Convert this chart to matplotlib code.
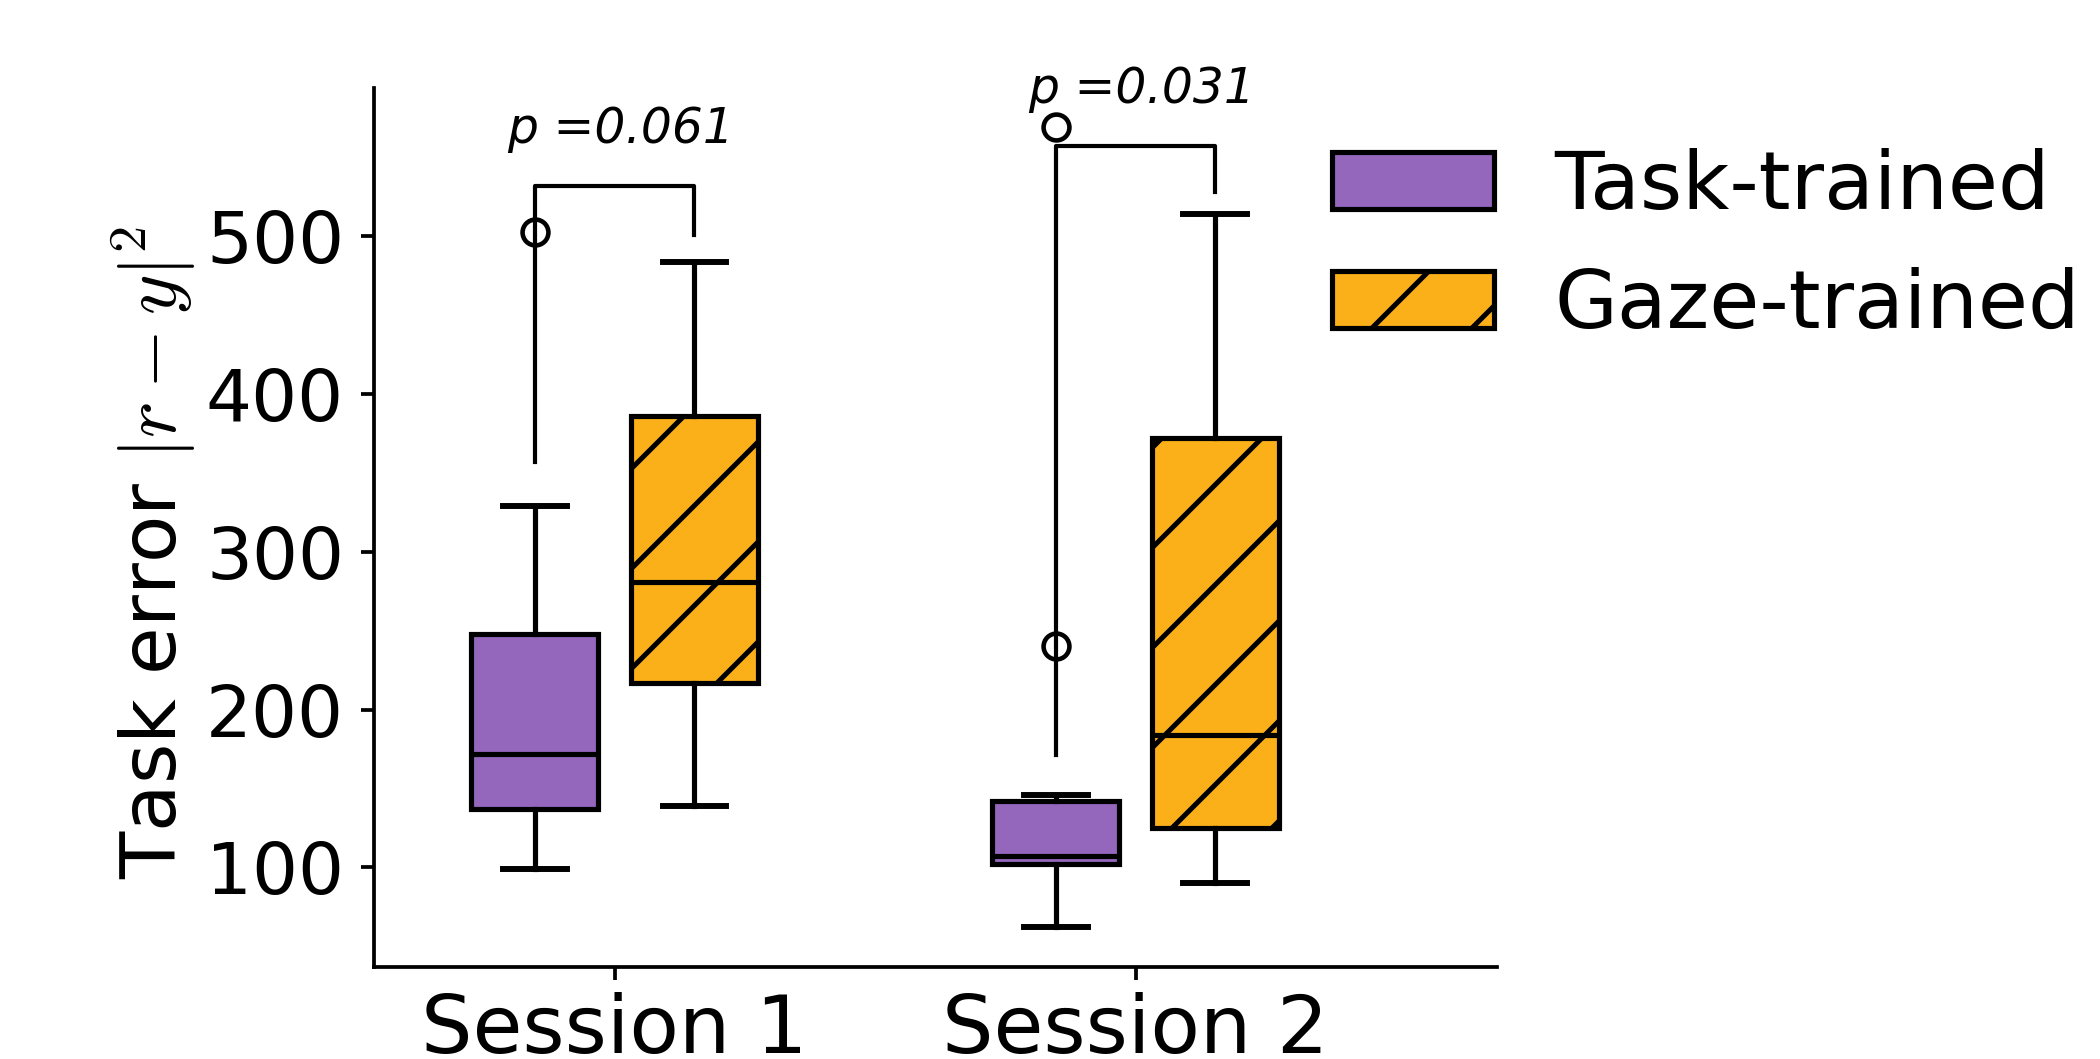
import numpy as np
import matplotlib.pyplot as plt

plt.rcParams['mathtext.fontset'] = 'cm'
plt.rcParams['hatch.linewidth'] = 0.6

sessions = ['Session 1', 'Session 2']
groups = ['Task-trained', 'Gaze-trained']
colors = ['#9467bd', '#fbb01a']
hatches = ['', '//']

# box stats: [session1, session2]
task_q1 = [137, 102]
task_med = [172, 107]
task_q3 = [248, 142]
task_lo = [99, 62]
task_hi = [329, 146]
task_fliers = [[503], [240, 569]]

gaze_q1 = [217, 125]
gaze_med = [281, 184]
gaze_q3 = [386, 372]
gaze_lo = [139, 90]
gaze_hi = [484, 514]
gaze_fliers = [[], []]

# significance brackets: left leg bottom, top, right leg bottom
br_left = [357, 171]
br_top = [532, 557]
br_right = [501, 528]
p_vals = ['0.061', '0.031']

off = 0.153
bw = 0.244

def make_stats(q1, med, q3, lo, hi, fl):
    out = []
    for ii in range(len(q1)):
        out.append({'q1': q1[ii], 'med': med[ii], 'q3': q3[ii],
                    'whislo': lo[ii], 'whishi': hi[ii],
                    'fliers': np.array(fl[ii])})
    return out

stats = [make_stats(task_q1, task_med, task_q3, task_lo, task_hi, task_fliers),
         make_stats(gaze_q1, gaze_med, gaze_q3, gaze_lo, gaze_hi, gaze_fliers)]

fig = plt.figure(figsize=(3.5, 1.765), dpi=600)
ax = fig.add_axes([0.1779, 0.0872, 0.535, 0.8297])

lw = 0.62
x = np.arange(len(sessions))
for gg in range(2):
    pos = x + (-off if gg == 0 else off)
    bp = ax.bxp(stats[gg], positions=pos, widths=bw, patch_artist=True,
                boxprops=dict(facecolor=colors[gg], edgecolor='black', linewidth=lw, hatch=hatches[gg]),
                medianprops=dict(color='black', linewidth=lw),
                whiskerprops=dict(color='black', linewidth=lw),
                capprops=dict(color='black', linewidth=lw * 1.15),
                flierprops=dict(marker='o', markerfacecolor='none', markeredgecolor='black',
                                markersize=3.1, markeredgewidth=0.55))

for ii in range(len(sessions)):
    x1 = x[ii] - off
    x2 = x[ii] + off
    ax.plot([x1, x1, x2, x2], [br_left[ii], br_top[ii], br_top[ii], br_right[ii]],
            color='black', linewidth=0.5)
    ax.text(x[ii] + 0.012, br_top[ii] + 21, 'p =' + p_vals[ii], ha='center', va='bottom',
            fontsize=5.85, style='italic')

ax.set_xlim(-0.4627, 1.694)
ax.set_ylim(37, 594)
ax.set_xticks(x)
ax.set_xticklabels(sessions)
ax.set_yticks([100, 200, 300, 400, 500])
ax.tick_params(width=0.45, length=1.55)
ax.tick_params(axis='y', labelsize=8.7, pad=2)
ax.tick_params(axis='x', labelsize=9.73, pad=1.5)
ax.spines['top'].set_visible(False)
ax.spines['right'].set_visible(False)
ax.spines['left'].set_linewidth(0.45)
ax.spines['bottom'].set_linewidth(0.45)
ax.set_ylabel(r'Task error $|r-y|^2$', fontsize=9.3, labelpad=1.0, y=0.471)

handles = [plt.Rectangle((0, 0), 1, 1, facecolor=colors[gg], edgecolor='black',
                         linewidth=lw, hatch=hatches[gg]) for gg in range(2)]
fig.legend(handles, groups, loc='upper left', bbox_to_anchor=(0.6186, 0.891),
           frameon=False, fontsize=9.75, borderaxespad=0, handletextpad=0.74)

fig.savefig('out.png', dpi=600)
